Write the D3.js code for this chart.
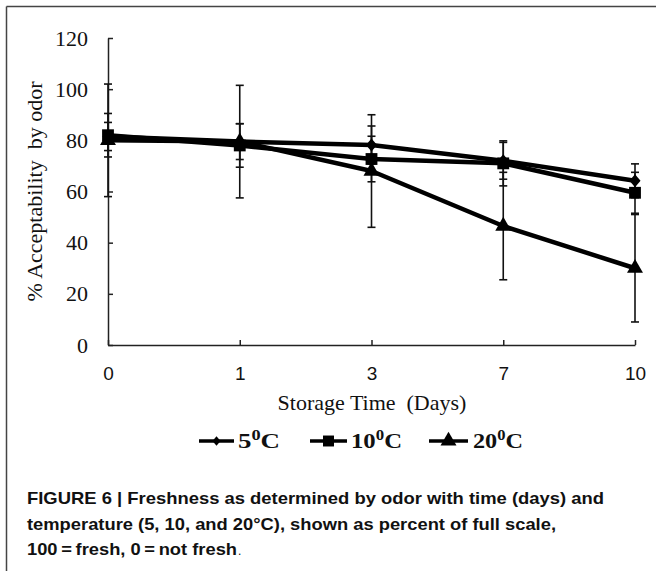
<!DOCTYPE html>
<html><head><meta charset="utf-8">
<script src="https://cdn.jsdelivr.net/npm/d3@7"></script>
<style>body{margin:0;background:#fff}svg{display:block}</style>
</head><body>
<script>
const days = ["0","1","3","7","10"];
const yTicks = [0,20,40,60,80,100,120];
const s5 = [81.5, 79.5, 78.2, 72, 64.2];
const e5 = [5.5, 7, 7.4, 7.2, 6.6];
const s10 = [82, 78, 72.7, 71, 59.5];
const e10 = [8.5, 8.5, 8.9, 8.8, 8];
const s20 = [80, 79.5, 68, 46.5, 30];
const e20 = [22, 22, 22, 21, 21];
const seriesNames = ["5", "10", "20"];

const W = 656, H = 571;
const svg = d3.select("body").append("svg").attr("width", W).attr("height", H);

// frame
svg.append("line").attr("x1",6.5).attr("x2",6.5).attr("y1",6.5).attr("y2",H).attr("stroke","#444").attr("stroke-width",1.5);
svg.append("line").attr("x1",6.5).attr("x2",W).attr("y1",6.5).attr("y2",6.5).attr("stroke","#444").attr("stroke-width",1.5);

const x = d3.scalePoint().domain(days).range([108, 635]);
const y = d3.scaleLinear().domain([0,120]).range([345, 38]);

const diamond = {draw(ctx, size){ const h = Math.sqrt(size)/2; const w = h*0.85;
  ctx.moveTo(0,-h); ctx.lineTo(w,0); ctx.lineTo(0,h); ctx.lineTo(-w,0); ctx.closePath(); }};
const types = [diamond, d3.symbolSquare, d3.symbolTriangle];
const sizes = [170, 140, 110];

const yAxis = svg.append("g").attr("transform","translate(108,0)")
  .call(d3.axisLeft(y).tickValues(yTicks).tickSizeInner(-5).tickSizeOuter(0).tickPadding(20));
yAxis.selectAll("text").attr("font-family","'Liberation Serif', serif").attr("font-size",22).attr("fill","#111");
yAxis.selectAll("line,path").attr("stroke","#222").attr("stroke-width",1.5);

const xAxis = svg.append("g").attr("transform","translate(0,345)")
  .call(d3.axisBottom(x).tickSizeInner(-5).tickSizeOuter(0).tickPadding(22));
xAxis.selectAll("text").attr("font-family","'Liberation Sans', sans-serif").attr("font-size",19).attr("fill","#111");
xAxis.selectAll("line,path").attr("stroke","#222").attr("stroke-width",1.5);

const all = [[s5,e5],[s10,e10],[s20,e20]];
// error bars
all.forEach(([vals, errs]) => {
  const g = svg.append("g").attr("stroke","#111").attr("stroke-width",1.6);
  days.forEach((d,i) => {
    const cx = x(d), hi = y(vals[i]+errs[i]), lo = y(vals[i]-errs[i]);
    g.append("line").attr("x1",cx).attr("x2",cx).attr("y1",hi).attr("y2",lo);
    g.append("line").attr("x1",cx-4).attr("x2",cx+4).attr("y1",hi).attr("y2",hi);
    g.append("line").attr("x1",cx-4).attr("x2",cx+4).attr("y1",lo).attr("y2",lo);
  });
});
// lines
const line = d3.line().x((v,i)=>x(days[i])).y(v=>y(v));
all.forEach(([vals]) => {
  svg.append("path").attr("d", line(vals)).attr("fill","none").attr("stroke","#000").attr("stroke-width",4.5).attr("stroke-linejoin","round");
});
// markers
all.forEach(([vals], k) => {
  svg.append("g").selectAll("path").data(vals).join("path")
    .attr("transform",(v,i)=>`translate(${x(days[i])},${y(v)})`)
    .attr("d", d3.symbol().type(types[k]).size(sizes[k])).attr("fill","#000");
});

// y title
svg.append("text").attr("transform","translate(42,191.5) rotate(-90)").attr("text-anchor","middle")
  .attr("font-family","'Liberation Serif', serif").attr("font-size",22).attr("fill","#111")
  .style("white-space","pre").text("% Acceptability  by odor");
// x title
svg.append("text").attr("x",372).attr("y",410).attr("text-anchor","middle")
  .attr("font-family","'Liberation Serif', serif").attr("font-size",22).attr("fill","#111")
  .style("white-space","pre").text("Storage Time  (Days)");

// legend
const legX = [[199,234,238,42],[310,347,351,51],[429,468,473,50]];
const legSizes = [90, 120, 110];
seriesNames.forEach((nm,k) => {
  const [a,b,t,tw] = legX[k], ly = 441;
  svg.append("line").attr("x1",a).attr("x2",b).attr("y1",ly).attr("y2",ly).attr("stroke","#000").attr("stroke-width",3.5);
  svg.append("path").attr("transform",`translate(${(a+b)/2},${ly})`).attr("d",d3.symbol().type(types[k]).size(legSizes[k])).attr("fill","#000");
  const tx = svg.append("text").attr("x",t).attr("y",448).attr("font-family","'Liberation Serif', serif")
    .attr("font-weight","bold").attr("font-size",22).attr("fill","#111")
    .attr("textLength",tw).attr("lengthAdjust","spacingAndGlyphs");
  tx.append("tspan").text(nm);
  tx.append("tspan").attr("dy",-8).attr("font-size",15).text("0");
  tx.append("tspan").attr("dy",8).text("C");
});

// caption
const cap = [
  {t:"FIGURE 6 | Freshness as determined by odor with time (days) and", y:504, w:577},
  {t:"temperature (5, 10, and 20°C), shown as percent of full scale,", y:530, w:529},
  {t:"100\u2009=\u2009fresh, 0\u2009=\u2009not fresh", y:555, w:210}
];
cap.forEach(c => {
  svg.append("text").attr("x",27).attr("y",c.y).attr("font-family","'Liberation Sans', Arial, sans-serif")
    .attr("font-weight","bold").attr("font-size",17).attr("fill","#111")
    .attr("textLength",c.w).attr("lengthAdjust","spacingAndGlyphs").text(c.t);
});
svg.append("text").attr("x",238).attr("y",555).attr("font-family","'Liberation Sans', sans-serif")
  .attr("font-size",12).attr("fill","#111").text(".");
</script>
</body></html>
